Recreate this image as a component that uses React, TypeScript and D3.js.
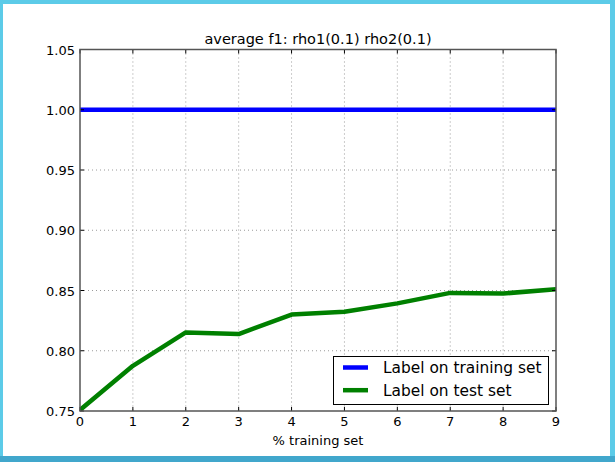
import React from "react";
import * as d3 from "d3";

const xValues = [0, 1, 2, 3, 4, 5, 6, 7, 8, 9];
const trainF1 = [1.0, 1.0, 1.0, 1.0, 1.0, 1.0, 1.0, 1.0, 1.0, 1.0];
const testF1 = [0.7508, 0.7875, 0.8152, 0.8138, 0.83, 0.8323, 0.8393, 0.848, 0.8475, 0.851];
const yTicks = [0.75, 0.8, 0.85, 0.9, 0.95, 1.0, 1.05];
const xTicks = [0, 1, 2, 3, 4, 5, 6, 7, 8, 9];
const seriesNames = ["Label on training set", "Label on test set"];
const seriesColors = ["#0000ff", "#008000"];
const title = "average f1: rho1(0.1) rho2(0.1)";
const xLabel = "% training set";

const W = 615;
const H = 462;
const m = { left: 80, right: 556, top: 49.5, bottom: 411 };
const font = "DejaVu Sans, sans-serif";

export default function App() {
  const x = d3.scaleLinear().domain([0, 9]).range([m.left, m.right]);
  const y = d3.scaleLinear().domain([0.75, 1.05]).range([m.bottom, m.top]);
  const line = d3
    .line<number>()
    .x((_, i) => x(xValues[i]))
    .y((d) => y(d));
  const series = [trainF1, testF1];
  const pw = m.right - m.left;
  const ph = m.bottom - m.top;
  const lg = { x: 333.5, y: 356.5, w: 215, h: 48 };

  return (
    <svg
      width={W}
      height={H}
      style={{ position: "absolute", left: 0, top: 0, display: "block" }}
      fontFamily={font}
    >
      <rect x={0} y={0} width={W} height={H} fill="#5ccbe8" />
      <rect x={0} y={456} width={W} height={H - 456} fill="#41a7cc" />
      <rect x={3} y={4} width={607} height={452} fill="#ffffff" />

      <defs>
        <clipPath id="plotclip">
          <rect x={m.left} y={m.top} width={pw} height={ph} />
        </clipPath>
      </defs>

      {/* grid */}
      <g stroke="#9a9a9a" strokeWidth={1} strokeDasharray="1,3">
        {xTicks.slice(1, -1).map((t) => (
          <line key={"gx" + t} x1={x(t)} x2={x(t)} y1={m.top} y2={m.bottom} />
        ))}
        {yTicks.slice(1, -1).map((t) => (
          <line key={"gy" + t} x1={m.left} x2={m.right} y1={y(t)} y2={y(t)} />
        ))}
      </g>

      {/* series */}
      <g clipPath="url(#plotclip)">
        {series.map((s, i) => (
          <path
            key={i}
            d={line(s) || ""}
            fill="none"
            stroke={seriesColors[i]}
            strokeWidth={4.5}
            strokeLinejoin="round"
          />
        ))}
      </g>

      {/* ticks */}
      <g stroke="#000" strokeWidth={1}>
        {xTicks.map((t) => (
          <g key={"tx" + t}>
            <line x1={x(t)} x2={x(t)} y1={m.bottom} y2={m.bottom - 4} />
            <line x1={x(t)} x2={x(t)} y1={m.top} y2={m.top + 4} />
          </g>
        ))}
        {yTicks.map((t) => (
          <g key={"ty" + t}>
            <line x1={m.left} x2={m.left + 4} y1={y(t)} y2={y(t)} />
            <line x1={m.right} x2={m.right - 4} y1={y(t)} y2={y(t)} />
          </g>
        ))}
      </g>

      {/* frame */}
      <rect
        x={m.left}
        y={m.top}
        width={pw}
        height={ph}
        fill="none"
        stroke="#555"
        strokeWidth={1.5}
      />

      {/* tick labels */}
      <g fontSize={13} fill="#000">
        {xTicks.map((t) => (
          <text key={"lx" + t} x={x(t)} y={m.bottom + 15} textAnchor="middle">
            {t}
          </text>
        ))}
        {yTicks.map((t) => (
          <text key={"ly" + t} x={m.left - 5} y={y(t) + 5} textAnchor="end">
            {t.toFixed(2)}
          </text>
        ))}
      </g>

      <text x={(m.left + m.right) / 2} y={44} textAnchor="middle" fontSize={14.5} fill="#000">
        {title}
      </text>
      <text x={(m.left + m.right) / 2} y={445} textAnchor="middle" fontSize={13} fill="#000">
        {xLabel}
      </text>

      {/* legend */}
      <rect x={lg.x} y={lg.y} width={lg.w} height={lg.h} fill="#fff" stroke="#000" strokeWidth={1} />
      {seriesNames.map((n, i) => (
        <g key={n}>
          <line
            x1={lg.x + 9.5}
            x2={lg.x + 34.5}
            y1={lg.y + 11 + i * 22.7}
            y2={lg.y + 11 + i * 22.7}
            stroke={seriesColors[i]}
            strokeWidth={4.5}
          />
          <text x={lg.x + 49.5} y={lg.y + 16.8 + i * 22.2} fontSize={15.4} fill="#000">
            {n}
          </text>
        </g>
      ))}
    </svg>
  );
}
